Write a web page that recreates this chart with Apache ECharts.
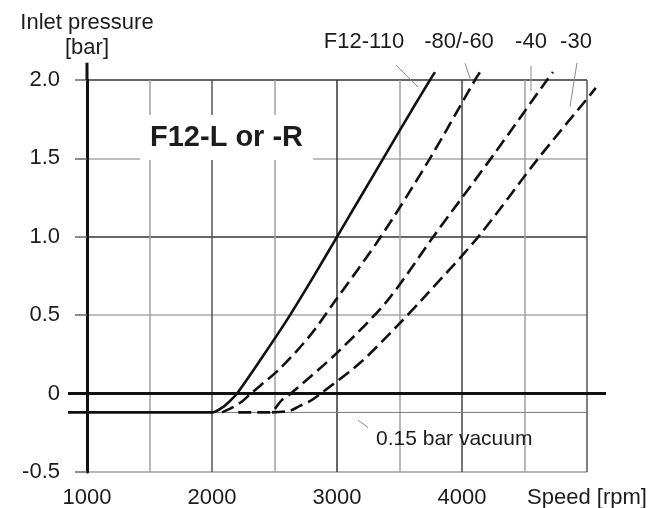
<!DOCTYPE html>
<html>
<head>
<meta charset="utf-8">
<title>F12-L or -R inlet pressure</title>
<script src="https://cdn.jsdelivr.net/npm/echarts@6/dist/echarts.min.js"></script>
<style>
    html, body { margin: 0; padding: 0; background: #fff; }
    #chart { width: 651px; height: 508px; }
</style>
</head>
<body>
<div id="chart"></div>
<script>
// tick labels
var speedTicks = [1000, 2000, 3000, 4000];
var speedEndLabel = 'Speed [rpm]';
var pressureTicks = [-0.5, 0, 0.5, 1.0, 1.5, 2.0];

// curves: [speed rpm, inlet pressure bar]
var f12_110 = [[848, -0.12], [2000, -0.12], [2080, -0.09], [2140, -0.05], [2200, 0], [2400, 0.23], [2600, 0.47], [2800, 0.73], [3000, 1.0], [3200, 1.27], [3400, 1.54], [3600, 1.81], [3744, 2.0], [3784, 2.05]];
var f12_80_60 = [[2080, -0.12], [2160, -0.09], [2240, -0.05], [2310, 0], [2544, 0.16], [2784, 0.37], [2984, 0.59], [3350, 1.0], [3744, 1.5], [4104, 2.0], [4144, 2.05]];
var f12_40 = [[2210, -0.12], [2460, -0.12], [2560, -0.04], [2630, 0], [3000, 0.26], [3400, 0.59], [3770, 1.0], [4250, 1.52], [4680, 2.0], [4728, 2.05]];
var f12_30 = [[2480, -0.12], [2620, -0.11], [2700, -0.08], [2780, -0.05], [2870, 0], [3190, 0.2], [3480, 0.43], [3680, 0.6], [4130, 1.0], [4610, 1.5], [5000, 1.88], [5070, 1.95]];

// reference lines
var zeroLine = [[848, 0], [5152, 0]];
var vacuumLine = [[2000, -0.12], [5000, -0.12]];
var axisTop = [[1000, 2.0], [1000, 2.11]];

// leader lines, label sits at the last point
var leader110 = [[3648, 1.955], [3472, 2.095]];
var leader80 = [[4072, 1.993], [4024, 2.107]];
var leader40 = [[4552, 1.93], [4552, 2.09]];
var leader30 = [[4864, 1.83], [4920, 2.11]];
var leaderVacuum = [[3168, -0.17], [3248, -0.215]];

var dom = document.getElementById('chart');
var myChart = echarts.init(dom, null, { renderer: 'canvas' });

var font = "'Liberation Sans', Arial, sans-serif";
var ink = '#1c1c1c';

function curve(name, data, dashed) {
    return {
        name: name,
        type: 'line',
        xAxisIndex: 1,
        yAxisIndex: 1,
        data: data,
        smooth: 0.3,
        showSymbol: false,
        symbol: 'none',
        clip: false,
        lineStyle: { color: '#111', width: 2.6, type: dashed ? [13, 6] : 'solid' },
        z: 4
    };
}

function plainLine(name, data, color, width) {
    return {
        name: name,
        type: 'line',
        xAxisIndex: 1,
        yAxisIndex: 1,
        data: data,
        symbol: 'none',
        clip: false,
        lineStyle: { color: color, width: width },
        z: 3
    };
}

function leader(text, data, align, offset, size) {
    var s = plainLine(text, data, '#8a8a8a', 1);
    s.endLabel = {
        show: true,
        formatter: text,
        distance: 0,
        align: align,
        verticalAlign: 'middle',
        offset: offset,
        color: ink,
        fontFamily: font,
        fontSize: size
    };
    return s;
}

var option = {
    animation: false,
    textStyle: { fontFamily: font },
    title: {
        text: 'F12-L or -R',
        left: 140,
        top: 115,
        padding: [8, 10, 8, 10],
        backgroundColor: '#fff',
        textStyle: { fontFamily: font, fontSize: 29, fontWeight: 'bold', color: ink }
    },
    grid: [
        { left: 87, right: 64, top: 80, bottom: 36, outerBoundsMode: 'none' },
        { left: 24.5, right: 1.5, top: 80, bottom: 36, outerBoundsMode: 'none' }
    ],
    xAxis: [
        {
            type: 'value',
            gridIndex: 0,
            min: 1000,
            max: 5000,
            interval: 500,
            axisLine: { show: true, lineStyle: { color: '#a0a0a0', width: 2 } },
            axisTick: { show: false },
            axisLabel: {
                show: true,
                margin: 15,
                fontSize: 22,
                color: ink,
                showMaxLabel: true,
                formatter: function (v) {
                    if (v === 5000) return speedEndLabel;
                    return speedTicks.indexOf(v) >= 0 ? String(v) : '';
                }
            },
            splitLine: {
                show: true,
                lineStyle: {
                    width: 1.5,
                    color: ['#222', '#a0a0a0', '#555', '#a0a0a0', '#333', '#a0a0a0', '#444', '#a0a0a0', '#555']
                }
            }
        },
        { type: 'value', gridIndex: 1, min: 500, max: 5500, interval: 500, show: false }
    ],
    yAxis: [
        {
            type: 'value',
            gridIndex: 0,
            min: -0.5,
            max: 2.0,
            interval: 0.5,
            name: 'Inlet pressure\n[bar]',
            nameLocation: 'end',
            nameGap: 20,
            nameTextStyle: { fontSize: 22, lineHeight: 25, color: ink, align: 'center' },
            axisLine: { show: true, lineStyle: { color: '#111', width: 3 } },
            axisTick: { show: true, length: 12, lineStyle: { color: '#666', width: 1.5 } },
            axisLabel: {
                margin: 27,
                fontSize: 22,
                color: ink,
                formatter: function (v) {
                    if (pressureTicks.indexOf(v) < 0) return '';
                    return v === 0 ? '0' : v.toFixed(1);
                }
            },
            splitLine: {
                show: true,
                lineStyle: { width: 1.5, color: ['#a0a0a0', '#222', '#a8a8a8', '#333', '#a8a8a8', '#333'] }
            }
        },
        { type: 'value', gridIndex: 1, min: -0.5, max: 2.0, interval: 0.5, show: false }
    ],
    series: [
        plainLine('zero', zeroLine, '#111', 3),
        plainLine('0.15 bar vacuum', vacuumLine, '#777', 1),
        plainLine('axis', axisTop, '#111', 3),
        curve('F12-110', f12_110, false),
        curve('-80/-60', f12_80_60, true),
        curve('-40', f12_40, true),
        curve('-30', f12_30, true),
        leader('F12-110', leader110, 'center', [-32, -23], 22),
        leader('-80/-60', leader80, 'center', [-6, -21], 22),
        leader('-40', leader40, 'center', [0, -24], 22),
        leader('-30', leader30, 'center', [-1, -21], 22),
        leader('0.15 bar vacuum', leaderVacuum, 'left', [8, 12], 21)
    ]
};

if (option && typeof option === 'object') {
    myChart.setOption(option);
}

window.addEventListener('resize', myChart.resize);
</script>
</body>
</html>
